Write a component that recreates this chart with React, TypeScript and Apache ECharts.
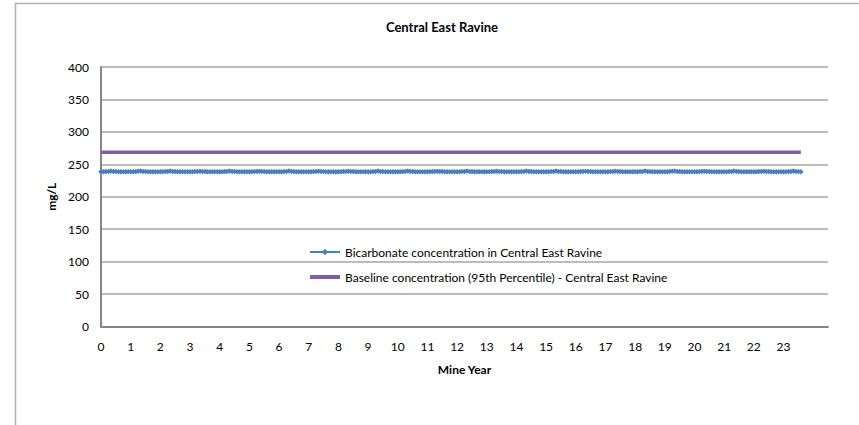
import React, { useEffect, useRef } from "react";
import * as echarts from "echarts";

const TITLE = "Central East Ravine";
const SERIES_BICARB = "Bicarbonate concentration in Central East Ravine";
const SERIES_BASE = "Baseline concentration (95th Percentile) - Central East Ravine";

// Monthly bicarbonate concentration (mg/L), one row per mine year (0..23, last year partial)
const bicarbRows: number[][] = [
  [238.6, 238.7, 238.8, 239.1, 239.5, 239.1, 238.8, 238.7, 238.6, 238.6, 238.6, 238.7],
  [238.6, 238.7, 238.9, 239.2, 239.6, 239.1, 238.8, 238.7, 238.6, 238.6, 238.6, 238.7],
  [238.6, 238.7, 238.8, 239.1, 239.5, 239.0, 238.8, 238.6, 238.6, 238.6, 238.6, 238.7],
  [238.6, 238.7, 238.8, 239.1, 239.4, 239.0, 238.8, 238.6, 238.6, 238.5, 238.6, 238.7],
  [238.6, 238.7, 238.8, 239.1, 239.5, 239.1, 238.8, 238.7, 238.6, 238.6, 238.6, 238.7],
  [238.6, 238.7, 238.8, 239.1, 239.4, 239.0, 238.8, 238.6, 238.6, 238.6, 238.6, 238.6],
  [238.6, 238.7, 238.8, 239.1, 239.5, 239.1, 238.8, 238.7, 238.6, 238.6, 238.6, 238.7],
  [238.6, 238.7, 238.8, 239.1, 239.4, 239.0, 238.8, 238.6, 238.6, 238.6, 238.6, 238.7],
  [238.6, 238.7, 238.8, 239.0, 239.4, 239.0, 238.8, 238.6, 238.6, 238.5, 238.6, 238.6],
  [238.6, 238.7, 238.8, 239.1, 239.5, 239.1, 238.8, 238.7, 238.6, 238.6, 238.6, 238.7],
  [238.6, 238.7, 238.9, 239.1, 239.5, 239.0, 238.8, 238.6, 238.6, 238.6, 238.6, 238.7],
  [238.6, 238.7, 238.8, 239.1, 239.4, 239.0, 238.8, 238.6, 238.6, 238.6, 238.6, 238.7],
  [238.6, 238.7, 238.8, 239.1, 239.5, 239.1, 238.8, 238.7, 238.6, 238.6, 238.6, 238.7],
  [238.6, 238.7, 238.8, 239.1, 239.4, 239.0, 238.8, 238.6, 238.6, 238.6, 238.6, 238.6],
  [238.6, 238.7, 238.8, 239.1, 239.5, 239.1, 238.8, 238.7, 238.6, 238.6, 238.6, 238.7],
  [238.6, 238.7, 238.8, 239.1, 239.5, 239.1, 238.8, 238.7, 238.6, 238.6, 238.6, 238.7],
  [238.6, 238.7, 238.8, 239.1, 239.4, 239.0, 238.8, 238.6, 238.6, 238.6, 238.6, 238.7],
  [238.6, 238.7, 238.8, 239.1, 239.4, 239.0, 238.8, 238.6, 238.6, 238.5, 238.6, 238.7],
  [238.6, 238.7, 238.8, 239.1, 239.5, 239.1, 238.8, 238.7, 238.6, 238.6, 238.6, 238.7],
  [238.6, 238.7, 238.9, 239.2, 239.5, 239.1, 238.8, 238.7, 238.6, 238.6, 238.6, 238.7],
  [238.6, 238.7, 238.8, 239.1, 239.4, 239.0, 238.8, 238.6, 238.6, 238.6, 238.6, 238.7],
  [238.6, 238.7, 238.8, 239.1, 239.5, 239.1, 238.8, 238.7, 238.6, 238.6, 238.6, 238.7],
  [238.6, 238.7, 238.8, 239.1, 239.4, 239.0, 238.8, 238.6, 238.6, 238.6, 238.6, 238.7],
  [238.6, 238.7, 238.8, 239.1, 239.5, 239.1, 238.8, 238.7],
];

const baselineValue = 268.5;
const monthsPerYear = 12;

const xTickLabels = ["0","1","2","3","4","5","6","7","8","9","10","11","12","13","14","15","16","17","18","19","20","21","22","23"];

export default function App() {
  const ref = useRef<HTMLDivElement>(null);

  useEffect(() => {
    document.body.style.margin = "0";
    if (!ref.current) return;
    const chart = echarts.init(ref.current, null, { renderer: "svg" });

    const bicarbData: [number, number][] = [];
    bicarbRows.forEach((row, yi) => {
      row.forEach((v, mi) => {
        bicarbData.push([yi + mi / monthsPerYear, v]);
      });
    });
    const lastX = bicarbData[bicarbData.length - 1][0];
    const baselineData: [number, number][] = [
      [0, baselineValue],
      [lastX, baselineValue],
    ];

    const font = "Lato, 'Open Sans', sans-serif";

    chart.setOption({
      animation: false,
      backgroundColor: "#ffffff",
      textStyle: { fontFamily: font, color: "#000" },
      title: {
        text: TITLE,
        left: 437,
        textAlign: "center",
        top: 15,
        textStyle: { fontSize: 13, fontWeight: "bold", color: "#000", fontFamily: font },
      },
      graphic: [
        {
          type: "rect",
          shape: { x: 15.5, y: 3.5, width: 900, height: 500 },
          style: { fill: "none", stroke: "#b0b0b0", lineWidth: 1.5 },
          silent: true,
        },
      ],
      legend: {
        orient: "vertical",
        left: 303,
        top: 241,
        itemWidth: 30,
        itemHeight: 8,
        itemGap: 13,
        textStyle: { fontSize: 12, color: "#000", fontFamily: font },
        data: [
          SERIES_BICARB,
          { name: SERIES_BASE, itemStyle: { opacity: 0 }, lineStyle: { width: 4, color: "#7f5fa0" } },
        ],
      },
      grid: { left: 101, right: 31, top: 67, bottom: 98.5 },
      xAxis: {
        type: "value",
        min: 0,
        max: 24.5,
        interval: 1,
        name: "Mine Year",
        nameLocation: "middle",
        nameGap: 37,
        nameTextStyle: { fontSize: 12, fontWeight: "bold", color: "#000", fontFamily: font },
        axisLine: { show: true, onZero: false, lineStyle: { color: "#868686", width: 2 } },
        axisTick: { show: false },
        splitLine: { show: false },
        axisLabel: {
          fontSize: 12,
          color: "#000",
          margin: 14,
          showMaxLabel: false,
          formatter: (v: number) => {
            const i = Math.round(v);
            return Math.abs(v - i) < 1e-6 && i < xTickLabels.length ? xTickLabels[i] : "";
          },
        },
      },
      yAxis: {
        type: "value",
        min: 0,
        max: 400,
        interval: 50,
        name: "mg/L",
        nameLocation: "middle",
        nameGap: 42,
        nameRotate: 90,
        nameTextStyle: { fontSize: 12, fontWeight: "bold", color: "#000", fontFamily: font },
        axisLine: { show: true, lineStyle: { color: "#868686", width: 2 } },
        axisTick: { show: false },
        axisLabel: { fontSize: 12, color: "#000", margin: 12 },
        splitLine: { show: true, lineStyle: { color: "#a6a6a6", width: 1.5 } },
      },
      series: [
        {
          name: SERIES_BICARB,
          type: "line",
          data: bicarbData,
          symbol: "diamond",
          symbolSize: 5.5,
          showSymbol: true,
          color: "#4a7ebb",
          itemStyle: { color: "#4a7ebb" },
          lineStyle: { color: "#4a7ebb", width: 1.5 },
          z: 3,
        },
        {
          name: SERIES_BASE,
          type: "line",
          data: baselineData,
          symbol: "none",
          color: "#8064a2",
          lineStyle: { color: "#7f5fa0", width: 3.5 },
          z: 2,
        },
      ],
    });

    return () => chart.dispose();
  }, []);

  return <div ref={ref} style={{ width: 859, height: 425 }} />;
}
